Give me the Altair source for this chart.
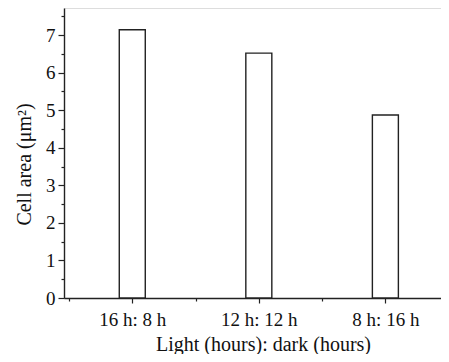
import json
import altair as alt
import pandas as pd

categories = ["16 h: 8 h", "12 h: 12 h", "8 h: 16 h"]
cell_area = [7.14, 6.52, 4.87]

df = pd.DataFrame({
    "pos": list(range(1, len(categories) + 1)),
    "cat": categories,
    "area": cell_area,
})

font = "Liberation Serif"
cats_js = json.dumps(categories)

x_axis = alt.Axis(
    values=[0.5, 1, 1.5, 2, 2.5, 3],
    labelExpr=f"datum.value % 1 === 0 ? {cats_js}[datum.value - 1] : ''",
    tickSize={"condition": {"test": "datum.value % 1 !== 0", "value": 3}, "value": 5},
    grid=False,
    domainColor="#222", tickColor="#222", tickWidth=1.2, domainWidth=1.4,
    labelFont=font, labelFontSize=19, labelColor="#111", labelPadding=7,
    labelFlush=False, labelOverlap=False,
    title="Light (hours): dark (hours)",
    titleFont=font, titleFontSize=20, titleFontWeight="normal", titleColor="#111",
    titleX=199, titleY=52, titleBaseline="alphabetic", titleAlign="center",
)

y_axis = alt.Axis(
    values=[v / 2 for v in range(0, 16)],
    labelExpr="datum.value % 1 === 0 ? datum.value : ''",
    tickSize={"condition": {"test": "datum.value % 1 !== 0", "value": 3}, "value": 6},
    grid=False,
    domainColor="#222", tickColor="#222", tickWidth=1.2, domainWidth=1.4,
    labelFont=font, labelFontSize=19, labelColor="#111", labelPadding=3,
    labelFlush=False, labelOverlap=False,
    title="Cell area (μm²)",
    titleFont=font, titleFontSize=20, titleFontWeight="normal", titleColor="#111",
    titleX=-34, titleY=156, titleBaseline="alphabetic", titleAlign="center", titleAngle=270,
)

chart = alt.Chart(df).mark_bar(
    size=26, fill="white", stroke="#222", strokeWidth=1.4
).encode(
    x=alt.X("pos:Q", scale=alt.Scale(domain=[0.5, 3.4], nice=False, zero=False), axis=x_axis),
    y=alt.Y("area:Q", scale=alt.Scale(domain=[0, 7.72], nice=False), axis=y_axis),
).properties(
    width=377,
    height=290,
    autosize=alt.AutoSizeParams(type="none"),
    padding={"left": 56, "top": 0, "right": 0, "bottom": 56},
).configure_view(stroke=None).configure(background="white")

chart.save("out.html", embed_options={"renderer": "svg", "actions": False})
